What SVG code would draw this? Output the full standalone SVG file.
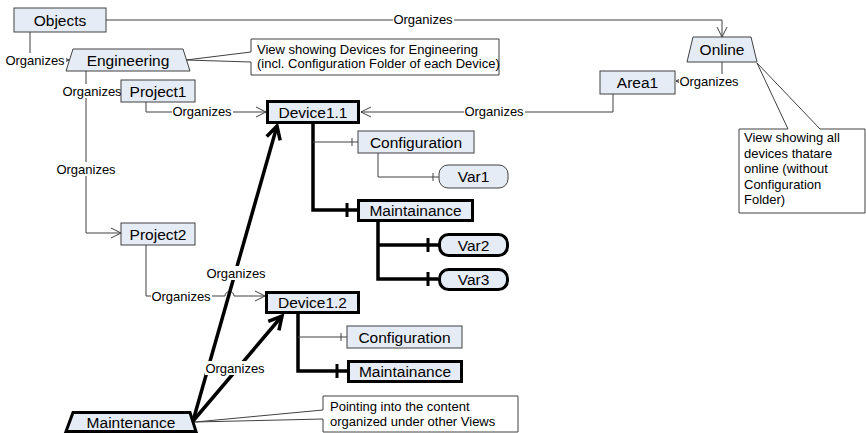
<svg xmlns="http://www.w3.org/2000/svg" width="866" height="433" viewBox="0 0 866 433">
<style>
.bg{fill:#fff}
.n{fill:#e6ecf6;stroke:#404040;stroke-width:1}
.nt{fill:#e6ecf6;stroke:#000;stroke-width:3}
.t{font-family:"Liberation Sans",Arial,sans-serif;font-size:15.5px;fill:#000;text-anchor:middle}
.l{font-family:"Liberation Sans",Arial,sans-serif;font-size:13px;fill:#000;text-anchor:middle}
.c{font-family:"Liberation Sans",Arial,sans-serif;font-size:13px;fill:#000}
.e{fill:none;stroke:#404040;stroke-width:1}
.et{fill:none;stroke:#000;stroke-width:3.5}
.lb{fill:#fff}
.co{fill:#fff;stroke:#404040;stroke-width:1}
</style>
<defs>
<marker id="a" markerUnits="userSpaceOnUse" markerWidth="12" markerHeight="12" refX="10" refY="5" orient="auto" overflow="visible">
<path d="M0,0 L10,5 L0,10" fill="none" stroke="#404040" stroke-width="1"/>
</marker>
<marker id="at" markerUnits="userSpaceOnUse" markerWidth="20" markerHeight="20" refX="13" refY="7" orient="auto" overflow="visible">
<path d="M0,0 L13,7 L0,14" fill="none" stroke="#000" stroke-width="3.5"/>
</marker>
</defs>
<rect class="bg" width="866" height="433"/>

<g id="connectors">
<!-- Objects -> Online -->
<path class="e" d="M106,20 H722 V37" marker-end="url(#a)"/>
<!-- Objects -> Engineering -->
<path class="e" d="M30,32 V60 H69" marker-end="url(#a)"/>
<!-- Engineering -> Project1 / Project2 -->
<path class="e" d="M86,71 V91 H121"/>
<path class="e" d="M86,91 V233 H121" marker-end="url(#a)"/>
<!-- Project1 -> Device1.1 -->
<path class="e" d="M146,102 V112 H266" marker-end="url(#a)"/>
<!-- Area1 -> Device1.1 -->
<path class="e" d="M613,94 V112 H361" marker-end="url(#a)"/>
<!-- Online -> Area1 -->
<path class="e" d="M722,62 V81 H676" marker-end="url(#a)"/>
<!-- Project2 -> Device1.2 with hop -->
<path class="e" d="M146,245 V296 H225 A4.5,4.5 0 0 1 234,296 H265" marker-end="url(#a)"/>
<!-- Maintenance -> Device1.1 / Device1.2 -->
<path class="et" d="M193,421 L277,126" marker-end="url(#at)"/>
<path class="et" d="M193,421 L282,316" marker-end="url(#at)"/>
<!-- Device1.1 components -->
<path class="et" d="M313,124 V210 H357"/>
<path class="e" d="M313,142 H358 M352,138 V146"/>
<path stroke="#000" stroke-width="3" d="M347,203 V217"/>
<path class="e" d="M378,153 V177 H439 M433,173 V181"/>
<path class="et" d="M378,222 V279 H438 M378,245 H438"/>
<path stroke="#000" stroke-width="3" d="M428,238 V252 M428,272 V286"/>
<!-- Device1.2 components -->
<path class="et" d="M298,314 V371 H347"/>
<path class="e" d="M298,337 H347 M341,333 V341"/>
<path stroke="#000" stroke-width="3" d="M337,364 V378"/>
<!-- labels -->
<g>
<rect class="lb" x="393" y="13" width="61" height="14"/><text class="l" x="423" y="24">Organizes</text>
<rect class="lb" x="5" y="53" width="61" height="14"/><text class="l" x="35" y="64.5">Organizes</text>
<rect class="lb" x="62" y="84" width="59" height="14"/><text class="l" x="92" y="95.5">Organizes</text>
<rect class="lb" x="56" y="162" width="61" height="14"/><text class="l" x="86" y="173.5">Organizes</text>
<rect class="lb" x="172" y="105" width="61" height="14"/><text class="l" x="202" y="116">Organizes</text>
<rect class="lb" x="464" y="105" width="61" height="14"/><text class="l" x="494" y="116">Organizes</text>
<rect class="lb" x="679" y="74" width="61" height="14"/><text class="l" x="709" y="85.5">Organizes</text>
<rect class="lb" x="151" y="289" width="61" height="14"/><text class="l" x="181" y="300.5">Organizes</text>
<rect class="lb" x="206" y="266" width="61" height="14"/><text class="l" x="236" y="277.5">Organizes</text>
<rect class="lb" x="205" y="361" width="61" height="14"/><text class="l" x="235" y="372.5">Organizes</text>
</g>
</g>

<g id="objects"><rect class="n" x="14" y="8" width="92" height="24"/><text class="t" x="60" y="25.5">Objects</text></g>
<g id="engineering"><polygon class="n" points="73,49 183,49 190,71 66,71"/><text class="t" x="128" y="66">Engineering</text></g>
<g id="engineering-note"><path class="co" d="M251,39 H499 V75 H251 V62 L186,60 L251,52 Z"/><text class="c" x="257" y="53.5">View showing Devices for Engineering</text><text class="c" x="257" y="68">(incl. Configuration Folder of each Device)</text></g>
<g id="project1"><rect class="n" x="121" y="80" width="74" height="22"/><text class="t" x="158" y="96.5">Project1</text></g>
<g id="project2"><rect class="n" x="121" y="223" width="74" height="22"/><text class="t" x="158" y="239.5">Project2</text></g>
<g id="device11"><rect class="nt" x="267.5" y="101.5" width="91" height="21"/><text class="t" x="313" y="117.5">Device1.1</text></g>
<g id="config1"><rect class="n" x="358" y="131" width="116" height="22"/><text class="t" x="416" y="147.5">Configuration</text></g>
<g id="var1"><rect class="n" x="439" y="165" width="69" height="23" rx="9"/><text class="t" x="473.5" y="182">Var1</text></g>
<g id="maint1"><rect class="nt" x="358.5" y="200.5" width="114" height="20"/><text class="t" x="415.5" y="216">Maintainance</text></g>
<g id="var2"><rect class="nt" x="439.5" y="234.5" width="68" height="21" rx="9"/><text class="t" x="473.5" y="250.5">Var2</text></g>
<g id="var3"><rect class="nt" x="439.5" y="269.5" width="68" height="20" rx="9"/><text class="t" x="473.5" y="285">Var3</text></g>
<g id="device12"><rect class="nt" x="266.5" y="292.5" width="92" height="20"/><text class="t" x="312.5" y="308">Device1.2</text></g>
<g id="config2"><rect class="n" x="347" y="326" width="115" height="22"/><text class="t" x="404.5" y="342.5">Configuration</text></g>
<g id="maint2"><rect class="nt" x="348.5" y="361.5" width="113" height="20"/><text class="t" x="405" y="377">Maintainance</text></g>
<g id="online"><polygon class="n" points="693,37 751,37 757,62 687,62"/><text class="t" x="722" y="55">Online</text></g>
<g id="area1"><rect class="n" x="600" y="71" width="75" height="23"/><text class="t" x="637.5" y="88">Area1</text></g>
<g id="online-note"><path class="co" d="M739,129 H788 L757,63 L820,129 H865 V213 H739 Z"/>
<text class="c" x="744" y="142">View showing all</text>
<text class="c" x="744" y="157.5">devices thatare</text>
<text class="c" x="744" y="173">online (without</text>
<text class="c" x="744" y="188.5">Configuration</text>
<text class="c" x="744" y="204">Folder)</text></g>
<g id="maintenance"><polygon class="n" points="73,412.5 190,412.5 196,431.5 66,431.5" style="stroke:#000;stroke-width:3"/><text class="t" x="131" y="428">Maintenance</text></g>
<g id="pointing-note"><path class="co" d="M323,396 H518 V432 H323 V419 L195,422 L323,410 Z"/><text class="c" x="330" y="411">Pointing into the content</text><text class="c" x="330" y="426">organized under other Views</text></g>
</svg>
